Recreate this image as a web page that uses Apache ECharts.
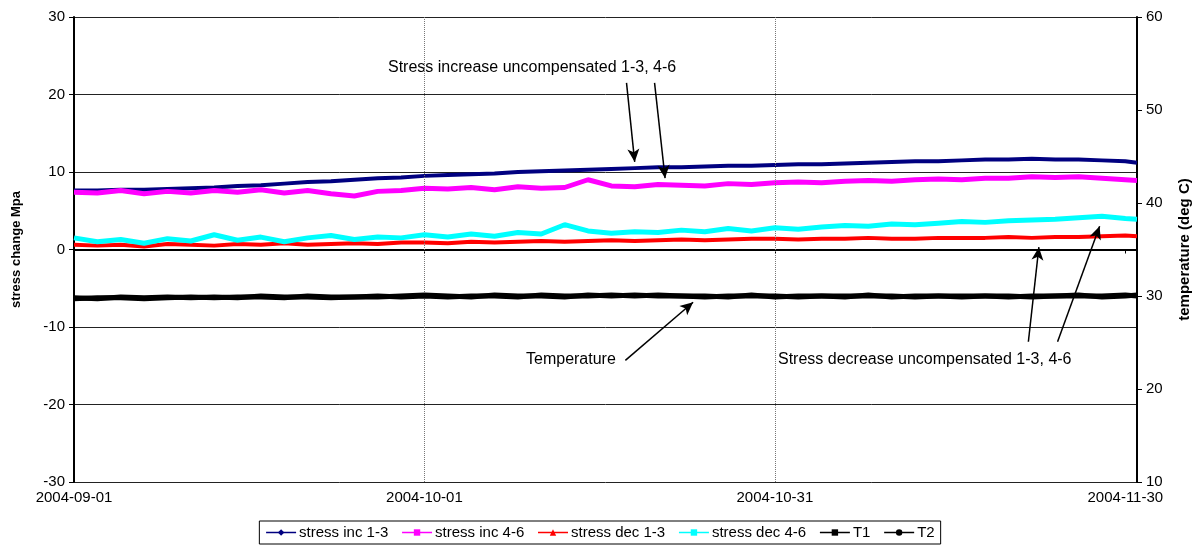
<!DOCTYPE html>
<html>
<head>
<meta charset="utf-8">
<script src="https://cdn.jsdelivr.net/npm/echarts@6/dist/echarts.min.js"></script>
<style>
  html, body { margin: 0; padding: 0; background: #fff; }
  #main { width: 1200px; height: 547px; }
</style>
</head>
<body>
<div id="main"></div>
<script>
// days since 2004-09-01
const days = [0, 2, 4, 6, 8, 10, 12, 14, 16, 18, 20, 22, 24, 26, 28, 30, 32, 34, 36, 38, 40, 42, 44, 46,
  48, 50, 52, 54, 56, 58, 60, 62, 64, 66, 68, 70, 72, 74, 76, 78, 80, 82, 84, 86, 88, 90, 91];

// stress change (MPa), left axis
const stressInc13 = [7.6, 7.6, 7.7, 7.7, 7.8, 7.9, 8.0, 8.2, 8.3, 8.5, 8.7, 8.8, 9.0, 9.2, 9.3, 9.5, 9.6, 9.7,
  9.8, 10.0, 10.1, 10.2, 10.3, 10.4, 10.5, 10.6, 10.6, 10.7, 10.8, 10.8, 10.9, 11.0, 11.0, 11.1, 11.2, 11.3,
  11.4, 11.4, 11.5, 11.6, 11.6, 11.7, 11.6, 11.6, 11.5, 11.4, 11.2];
const stressInc46 = [7.4, 7.3, 7.6, 7.2, 7.5, 7.3, 7.6, 7.4, 7.7, 7.3, 7.6, 7.2, 6.9, 7.5, 7.6, 7.9, 7.8, 8.0,
  7.7, 8.1, 7.9, 8.0, 9.0, 8.2, 8.1, 8.4, 8.3, 8.2, 8.5, 8.4, 8.6, 8.7, 8.6, 8.8, 8.9, 8.8, 9.0, 9.1, 9.0,
  9.2, 9.2, 9.4, 9.3, 9.4, 9.2, 9.0, 8.9];
const stressDec13 = [0.6, 0.5, 0.6, 0.4, 0.7, 0.6, 0.5, 0.7, 0.6, 0.8, 0.6, 0.7, 0.8, 0.7, 0.9, 0.9, 0.8, 1.0,
  0.9, 1.0, 1.1, 1.0, 1.1, 1.2, 1.1, 1.2, 1.3, 1.2, 1.3, 1.4, 1.4, 1.3, 1.4, 1.4, 1.5, 1.4, 1.4, 1.5, 1.5,
  1.5, 1.6, 1.5, 1.6, 1.6, 1.7, 1.8, 1.7];
const stressDec46 = [1.5, 1.0, 1.3, 0.8, 1.4, 1.1, 1.9, 1.2, 1.6, 1.0, 1.5, 1.8, 1.3, 1.6, 1.5, 1.9, 1.6, 2.0,
  1.7, 2.2, 2.0, 3.2, 2.4, 2.1, 2.3, 2.2, 2.5, 2.3, 2.7, 2.4, 2.8, 2.6, 2.9, 3.1, 3.0, 3.3, 3.2, 3.4, 3.6,
  3.5, 3.7, 3.8, 3.9, 4.1, 4.3, 4.0, 3.9];

// temperature (deg C), right axis
const tempT1 = [29.8, 29.7, 29.9, 29.8, 29.9, 29.8, 29.9, 29.8, 30.0, 29.9, 29.9, 29.8, 29.9, 30.0, 29.9, 30.0,
  29.9, 30.0, 30.0, 29.9, 30.1, 30.0, 30.0, 30.1, 30.0, 30.1, 30.0, 29.9, 30.0, 30.0, 30.0, 29.9, 30.0, 30.0,
  30.0, 30.0, 29.9, 30.0, 30.0, 30.0, 29.9, 30.0, 30.0, 30.0, 30.0, 30.1, 30.0];
const tempT2 = [29.7, 29.8, 29.8, 29.7, 29.8, 29.9, 29.8, 29.9, 29.9, 29.8, 30.0, 29.9, 29.9, 29.9, 30.0, 30.1,
  30.0, 29.9, 30.1, 30.0, 30.0, 29.9, 30.1, 30.0, 30.1, 30.0, 30.0, 30.0, 29.9, 30.1, 29.9, 30.0, 30.0, 29.9,
  30.1, 29.9, 30.0, 30.0, 29.9, 30.0, 30.0, 29.9, 30.0, 30.1, 29.9, 30.0, 30.1];

const seriesNames = ['stress inc 1-3', 'stress inc 4-6', 'stress dec 1-3', 'stress dec 4-6', 'T1', 'T2'];
const yTicksLeft = [-30, 30, 10];   // min, max, step
const yTicksRight = [10, 60, 10];
const xGridDays = [30, 60];

const startMs = Date.UTC(2004, 8, 1);
function dayLabel(d) {
  return new Date(startMs + d * 86400000).toISOString().slice(0, 10);
}
function pairs(vals) {
  return vals.map((v, i) => [days[i], v]);
}

const FONT = "'Liberation Sans', Arial, sans-serif";
const chart = echarts.init(document.getElementById('main'));

function mkSeries(name, vals, color, width, symbol, yIdx, z) {
  return {
    name: name,
    type: 'line',
    yAxisIndex: yIdx,
    data: pairs(vals),
    showSymbol: false,
    symbol: symbol,
    symbolSize: 6,
    lineStyle: { color: color, width: width },
    itemStyle: { color: color },
    emphasis: { disabled: true },
    animation: false,
    z: z
  };
}

const arrowStyle = { color: '#000', width: 1.5, type: 'solid' };
function arrow(from, to) {
  return [
    { coord: from, symbol: 'none' },
    { coord: to, symbol: 'arrow', symbolSize: [9, 13] }
  ];
}

const s1 = mkSeries(seriesNames[0], stressInc13, '#000080', 4, 'diamond', 0, 2);
s1.markLine = {
  silent: true,
  animation: false,
  label: { show: false },
  lineStyle: arrowStyle,
  data: [
    arrow([47.3, 21.5], [48.0, 11.3]),
    arrow([49.7, 21.5], [50.6, 9.2]),
    arrow([47.2, -14.3], [53.0, -6.8]),
    arrow([81.7, -11.9], [82.6, 0.3]),
    arrow([84.2, -11.9], [87.8, 3.0])
  ]
};
const s2 = mkSeries(seriesNames[1], stressInc46, '#ff00ff', 5, 'rect', 0, 3);
s2.markLine = {
  silent: true,
  animation: false,
  symbol: 'none',
  label: { show: false },
  lineStyle: { color: '#777', width: 1, type: 'dotted' },
  data: xGridDays.map(d => ({ xAxis: d }))
};

const option = {
  backgroundColor: '#fff',
  textStyle: { fontFamily: FONT },
  grid: { left: 74, right: 63, top: 17, bottom: 65 },
  xAxis: {
    type: 'value',
    min: 0,
    max: 91,
    interval: 30,
    axisLine: { lineStyle: { color: '#000', width: 2 } },
    axisTick: { inside: false, length: 4, lineStyle: { color: '#000' } },
    axisLabel: {
      color: '#000', fontSize: 15, fontFamily: FONT, margin: 8,
      showMaxLabel: false,
      formatter: v => dayLabel(v)
    },
    splitLine: { show: false }
  },
  yAxis: [
    {
      type: 'value',
      min: yTicksLeft[0], max: yTicksLeft[1], interval: yTicksLeft[2],
      name: 'stress change Mpa',
      nameLocation: 'middle',
      nameRotate: 90,
      nameGap: 51,
      nameTextStyle: { color: '#000', fontSize: 13, fontWeight: 'bold', fontFamily: FONT },
      axisLine: { show: true, lineStyle: { color: '#000', width: 2 } },
      axisTick: { show: true, length: 5, lineStyle: { color: '#000' } },
      axisLabel: { color: '#000', fontSize: 15, fontFamily: FONT, margin: 9 },
      splitLine: { show: true, lineStyle: { color: '#222', width: 1 } }
    },
    {
      type: 'value',
      position: 'right',
      min: yTicksRight[0], max: yTicksRight[1], interval: yTicksRight[2],
      name: 'temperature (deg C)',
      nameLocation: 'middle',
      nameRotate: 90,
      nameGap: 40,
      nameTextStyle: { color: '#000', fontSize: 15, fontWeight: 'bold', fontFamily: FONT },
      axisLine: { show: true, lineStyle: { color: '#000', width: 2 } },
      axisTick: { show: true, length: 5, lineStyle: { color: '#000' } },
      axisLabel: { color: '#000', fontSize: 15, fontFamily: FONT, margin: 9 },
      splitLine: { show: false }
    }
  ],
  legend: {
    data: seriesNames,
    left: 'center',
    top: 521,
    padding: [4, 6],
    itemGap: 13,
    itemWidth: 30,
    itemHeight: 8,
    borderColor: '#000',
    borderWidth: 1,
    lineStyle: { width: 1.5 },
    textStyle: { color: '#000', fontSize: 15, fontFamily: FONT, padding: [0, 0, 0, -2] },
    selectedMode: false
  },
  graphic: [
    { type: 'text', left: 388, top: 60, style: { text: 'Stress increase uncompensated 1-3, 4-6', fill: '#000', font: '16px ' + FONT } },
    { type: 'text', left: 526, top: 352, style: { text: 'Temperature', fill: '#000', font: '16px ' + FONT } },
    { type: 'text', left: 778, top: 352, style: { text: 'Stress decrease uncompensated 1-3, 4-6', fill: '#000', font: '16px ' + FONT } }
  ],
  series: [
    s1,
    s2,
    mkSeries(seriesNames[2], stressDec13, '#ff0000', 4, 'triangle', 0, 4),
    mkSeries(seriesNames[3], stressDec46, '#00ffff', 5, 'rect', 0, 5),
    mkSeries(seriesNames[4], tempT1, '#000000', 5, 'rect', 1, 6),
    mkSeries(seriesNames[5], tempT2, '#000000', 5, 'circle', 1, 7)
  ]
};

chart.setOption(option);
</script>
</body>
</html>
